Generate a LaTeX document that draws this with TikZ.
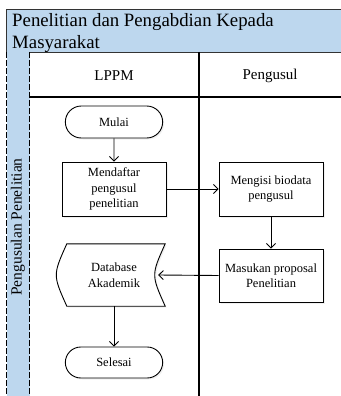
\documentclass[tikz,border=0pt]{standalone}
\usepackage{fontspec}
\setmainfont{Liberation Serif}
\usetikzlibrary{shapes.misc, arrows.meta, positioning, shadows}
\definecolor{laneblue}{RGB}{189, 215, 238}

\tikzset{
  prosesbox/.style={draw, fill=white, line width=0.9pt, minimum width=104pt, minimum height=54pt,
    align=center, font=\fontsize{12.5}{15.5}\selectfont,
    drop shadow={opacity=0.12, shadow xshift=1.5pt, shadow yshift=-1.5pt}},
  terminal/.style={prosesbox, rounded rectangle, minimum height=32pt},
  alur/.style={-{Straight Barb[length=4.5pt, width=9pt]}, line width=0.9pt},
  lanegaris/.style={line width=1.2pt},
}

\begin{document}
\begin{tikzpicture}[x=1pt, y=-1pt]
  \useasboundingbox (0,0) rectangle (340,396);

  % kolam dan lajur
  \draw[fill=laneblue, draw=black!80, line width=0.9pt] (6,9) rectangle (342,52);
  \fill[laneblue] (6.5,52) rectangle (29.5,398);
  \draw[dash pattern=on 6pt off 2pt, line width=0.9pt] (6.5,52) -- (6.5,398) (29.5,52) -- (29.5,398);
  \draw[lanegaris] (29.5,97) -- (342,97);
  \draw[lanegaris] (199,52) -- (199,398);

  \node[anchor=north west, inner sep=0pt, align=left, font=\fontsize{18.8}{22}\selectfont] (judul) at (12,13)
    {Penelitian dan Pengabdian Kepada\\Masyarakat};
  \node[font=\fontsize{15}{18}\selectfont] (lppm) at (114,76) {LPPM};
  \node[font=\fontsize{15}{18}\selectfont] (pengusul) at (270,76) {Pengusul};
  \node[rotate=90, font=\fontsize{15.5}{18}\selectfont] (lajur) at (18,227) {Pengusulan Penelitian};

  % alur kerja
  \node[terminal, minimum width=104pt] (mulai) at (114,122) {Mulai};
  \node[prosesbox] (daftar) at (114,189) {Mendaftar\\pengusul\\penelitian};
  \node[prosesbox] (biodata) at (271,189) {Mengisi biodata\\pengusul};
  \node[prosesbox, minimum height=53pt] (proposal) at (271,275.5) {Masukan proposal\\Penelitian};
  \node[minimum width=98pt, minimum height=62pt, inner sep=0pt] (db) at (116,275) {};
  \draw[line width=0.9pt, fill=white, drop shadow={opacity=0.12, shadow xshift=1.5pt, shadow yshift=-1.5pt}]
    (db.north west) -- (db.north east) .. controls ([xshift=-14pt]db.east) .. (db.south east)
    -- (db.south west) .. controls ([xshift=-14pt]db.west) .. (db.north west) -- cycle;
  \node[align=center, font=\fontsize{12.5}{15.5}\selectfont] (dbteks) at (114,275) {Database\\Akademik};
  \node[terminal, minimum height=31pt] (selesai) at (114,362.5) {Selesai};

  \draw[alur] (mulai) -- (daftar);
  \draw[alur] (daftar) -- (biodata);
  \draw[alur] (biodata) -- (proposal);
  \draw[alur] (proposal.west) -- ([xshift=-7pt]db.east);
  \draw[alur] (db.south -| selesai.north) -- (selesai.north);
\end{tikzpicture}
\end{document}
